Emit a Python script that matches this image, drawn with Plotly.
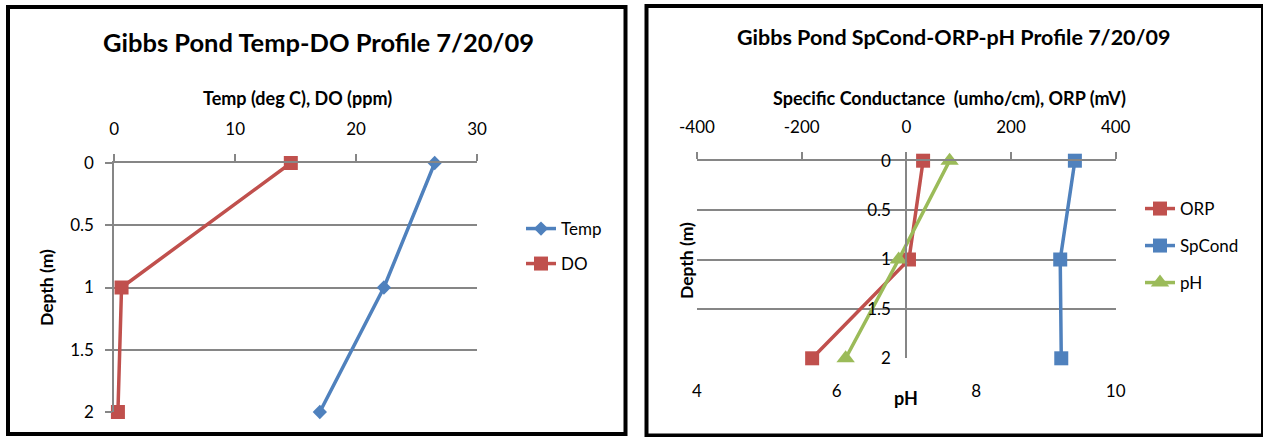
import plotly.graph_objects as go

# ---------------- data ----------------
depth = [0, 1, 2]
temp = [26.5, 22.3, 17.0]
do_ppm = [14.6, 0.6, 0.3]

orp = [32, 5, -180]
spcond = [322, 294, 296]
ph = [7.62, 6.89, 6.13]

left_x_ticks = [0, 10, 20, 30]
right_x_ticks = [-400, -200, 0, 200, 400]
right_x_text = ["-400", "-200", "0", "200", "400"]
ph_ticks = [4, 6, 8, 10]
depth_ticks = [0, 0.5, 1, 1.5, 2]
depth_text = ["0", "0.5", "1", "1.5", "2"]

# ---------------- style ----------------
W, H = 1263, 437
FONT = "Lato"
GRID = "#868686"
BLUE = "#4F81BD"
RED = "#C0504D"
GREEN = "#9BBB59"


def fx(px):
    return px / W


def fy(py):
    return 1 - py / H


fig = go.Figure()

# left chart traces
fig.add_trace(go.Scatter(x=temp, y=depth, name="Temp", mode="lines+markers",
                         line=dict(color=BLUE, width=3.5),
                         marker=dict(symbol="diamond", size=11, color=BLUE),
                         cliponaxis=False,
                         xaxis="x", yaxis="y", legend="legend"))
fig.add_trace(go.Scatter(x=do_ppm, y=depth, name="DO", mode="lines+markers",
                         line=dict(color=RED, width=3.5),
                         marker=dict(symbol="square", size=14, color=RED),
                         cliponaxis=False,
                         xaxis="x", yaxis="y", legend="legend2"))

# right chart traces
fig.add_trace(go.Scatter(x=orp, y=depth, name="ORP", mode="lines+markers",
                         line=dict(color=RED, width=3.5),
                         marker=dict(symbol="square", size=14, color=RED),
                         cliponaxis=False,
                         xaxis="x3", yaxis="y3", legend="legend3"))
fig.add_trace(go.Scatter(x=spcond, y=depth, name="SpCond", mode="lines+markers",
                         line=dict(color=BLUE, width=3.5),
                         marker=dict(symbol="square", size=14, color=BLUE),
                         cliponaxis=False,
                         xaxis="x3", yaxis="y3", legend="legend4"))
fig.add_trace(go.Scatter(x=ph, y=depth, name="pH", mode="lines+markers",
                         line=dict(color=GREEN, width=3.5),
                         marker=dict(symbol="triangle-up", size=16, color=GREEN),
                         cliponaxis=False,
                         xaxis="x4", yaxis="y3", legend="legend5"))

tickfont = dict(family=FONT, size=17, color="black")

L_X0, L_X1, L_Y0, L_Y1 = 114.3, 477.0, 163.0, 412.0
R_X0, R_X1, R_Y0, R_Y1 = 697.0, 1115.7, 160.7, 358.3

layout = dict(
    width=W, height=H,
    margin=dict(l=0, r=0, t=0, b=0, autoexpand=False),
    paper_bgcolor="white", plot_bgcolor="white",
    font=dict(family=FONT, color="black"),
    showlegend=True,
    xaxis=dict(domain=[fx(L_X0), fx(L_X1)], range=[0, 30], side="top",
               tickvals=left_x_ticks, ticks="outside", ticklen=7, tickwidth=2,
               tickcolor=GRID, showline=True, linecolor=GRID, linewidth=2,
               showgrid=False, zeroline=False, tickfont=tickfont,
               ticklabelstandoff=12, anchor="y", automargin=False),
    yaxis=dict(domain=[fy(L_Y1), fy(L_Y0)], range=[2, 0], tickvals=depth_ticks,
               ticktext=depth_text,
               ticks="outside", ticklen=7, tickwidth=2, tickcolor=GRID,
               showline=True, linecolor=GRID, linewidth=2,
               showgrid=True, gridcolor=GRID, gridwidth=2, zeroline=False,
               tickfont=tickfont, ticklabelstandoff=8, anchor="x",
               automargin=False),
    xaxis3=dict(domain=[fx(R_X0), fx(R_X1)], range=[-400, 400], side="top",
                tickvals=right_x_ticks, ticktext=right_x_text,
                ticks="outside", ticklen=7, tickwidth=2,
                tickcolor=GRID, showline=True, linecolor=GRID, linewidth=2,
                showgrid=False, zeroline=False, tickfont=tickfont,
                ticklabelstandoff=12, anchor="y3", automargin=False),
    xaxis4=dict(overlaying="x3", range=[4, 10], side="bottom", tickvals=ph_ticks,
                ticks="", showline=False, showgrid=False, zeroline=False,
                tickfont=tickfont, ticklabelstandoff=21, anchor="y3",
                automargin=False),
    xaxis5=dict(overlaying="x3", range=[4, 10], side="top", tickvals=ph_ticks[1:3],
                ticks="outside", ticklen=7, tickwidth=2, tickcolor=GRID,
                showticklabels=False, showline=False, showgrid=False,
                zeroline=False, anchor="y3", automargin=False),
    yaxis3=dict(domain=[fy(R_Y1), fy(R_Y0)], range=[2, 0], tickvals=depth_ticks,
                ticktext=depth_text,
                ticks="", showline=True, linecolor=GRID, linewidth=2,
                showgrid=True, gridcolor=GRID, gridwidth=2, zeroline=False,
                tickfont=tickfont, ticklabelstandoff=11,
                anchor="free", position=fx((R_X0 + R_X1) / 2), automargin=False),
    yaxis4=dict(overlaying="y3", side="right", range=[2, 0], tickvals=depth_ticks,
                ticks="outside", ticklen=6, tickwidth=2, tickcolor=GRID,
                showticklabels=False, showline=True, linecolor=GRID, linewidth=2,
                showgrid=False, zeroline=False, anchor="x3", automargin=False),
)

legend_common = dict(xanchor="left", yanchor="middle", bgcolor="rgba(0,0,0,0)",
                     borderwidth=0, font=dict(family=FONT, size=17, color="black"),
                     itemsizing="trace")
layout["legend"] = dict(legend_common, x=fx(521), y=fy(229))
layout["legend2"] = dict(legend_common, x=fx(521), y=fy(264))
layout["legend3"] = dict(legend_common, x=fx(1140), y=fy(209))
layout["legend4"] = dict(legend_common, x=fx(1140), y=fy(246))
layout["legend5"] = dict(legend_common, x=fx(1140), y=fy(283))

fig.update_layout(**layout)

bold = dict(family=FONT, color="black", weight="bold")
annotations = [
    dict(text="Gibbs Pond Temp-DO Profile 7/20/09", x=fx(318), y=fy(42),
         font=dict(bold, size=25.5)),
    dict(text="Temp (deg C), DO (ppm)", x=fx(297), y=fy(98),
         font=dict(bold, size=18)),
    dict(text="Depth (m)", x=fx(46), y=fy(288), textangle=-90,
         font=dict(bold, size=17.5)),
    dict(text="Gibbs Pond SpCond-ORP-pH Profile 7/20/09", x=fx(954), y=fy(37),
         font=dict(bold, size=21.5)),
    dict(text="Specific Conductance  (umho/cm), ORP (mV)", x=fx(949), y=fy(98),
         font=dict(bold, size=18)),
    dict(text="Depth (m)", x=fx(686), y=fy(261), textangle=-90,
         font=dict(bold, size=17.5)),
    dict(text="pH", x=fx(906), y=fy(398), font=dict(bold, size=18)),
]
for a in annotations:
    a.update(xref="paper", yref="paper", showarrow=False,
             xanchor="center", yanchor="middle")
fig.update_layout(annotations=annotations)

# chart frames
fig.update_layout(shapes=[
    dict(type="rect", xref="paper", yref="paper", x0=fx(8), x1=fx(625.5),
         y0=fy(7), y1=fy(434), line=dict(color="black", width=4)),
    dict(type="rect", xref="paper", yref="paper", x0=fx(646.5), x1=fx(1263),
         y0=fy(6), y1=fy(435.5), line=dict(color="black", width=4)),
])

fig.write_html(
    "out.html",
    config={"displayModeBar": False},
    post_script="document.body.style.margin='0';document.body.style.overflow='hidden';",
)
